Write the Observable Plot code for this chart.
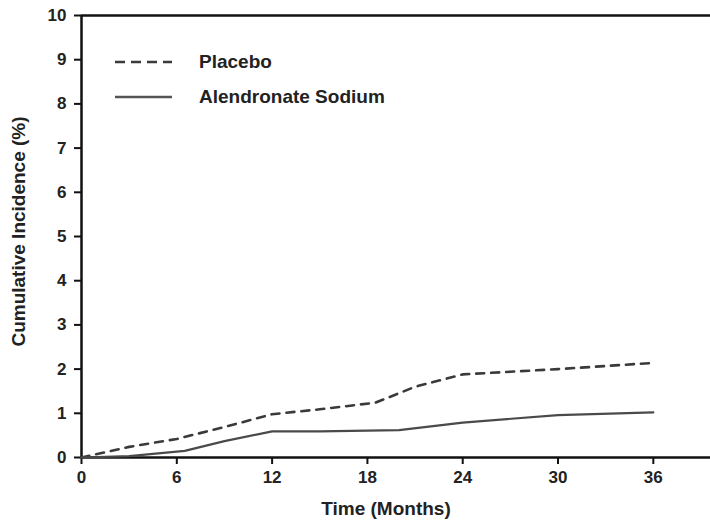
<!DOCTYPE html>
<html>
<head>
<meta charset="utf-8">
<script src="https://cdn.jsdelivr.net/npm/d3@7"></script>
<script src="https://cdn.jsdelivr.net/npm/@observablehq/plot@0.6"></script>
<style>
  html, body { margin: 0; padding: 0; background: #fff; }
  #chart { position: relative; width: 710px; height: 525px; }
  svg { font-family: "Liberation Sans", Arial, sans-serif; }
</style>
</head>
<body>
<div id="chart"></div>
<script>
// Data
const placeboMonths = [0, 3, 6, 9, 12, 15, 18.5, 21, 24, 27, 30, 33, 36];
const placeboValues = [0, 0.24, 0.42, 0.69, 0.98, 1.09, 1.24, 1.6, 1.88, 1.94, 2.0, 2.07, 2.14];
const alendronateMonths = [0, 3, 6.5, 9, 12, 15, 20, 24, 30, 36];
const alendronateValues = [0, 0.03, 0.15, 0.37, 0.59, 0.59, 0.62, 0.79, 0.96, 1.02];
const xTicks = [0, 6, 12, 18, 24, 30, 36];
const yTicks = [0, 1, 2, 3, 4, 5, 6, 7, 8, 9, 10];
const seriesNames = ["Placebo", "Alendronate Sodium"];
const xLabel = "Time (Months)";
const yLabel = "Cumulative Incidence (%)";

const placebo = placeboMonths.map((m, i) => ({month: m, value: placeboValues[i]}));
const alendronate = alendronateMonths.map((m, i) => ({month: m, value: alendronateValues[i]}));

const ink = "#222";
const plot = Plot.plot({
  width: 710,
  height: 525,
  marginLeft: 81,
  marginRight: 0,
  marginTop: 15,
  marginBottom: 68,
  style: {fontFamily: "'Liberation Sans', Arial, sans-serif", color: ink, background: "#fff"},
  x: {domain: [0, 39.6]},
  y: {domain: [0, 10]},
  marks: [
    Plot.ruleY([10], {stroke: "#111", strokeWidth: 2.5}),
    Plot.ruleX([0], {y1: 0, y2: 10, stroke: "#111", strokeWidth: 2.5}),
    Plot.ruleY([0], {stroke: "#111", strokeWidth: 2.5}),
    Plot.axisX({ticks: xTicks, tickSize: 7, tickPadding: 6, tickFormat: d => String(d),
      fontSize: 17, fontWeight: "bold", strokeWidth: 2, stroke: "#111", fill: ink, label: null}),
    Plot.axisY({ticks: yTicks, tickSize: 7, tickPadding: 8, tickFormat: d => String(d),
      fontSize: 17, fontWeight: "bold", strokeWidth: 2, stroke: "#111", fill: ink, label: null}),
    Plot.line(placebo, {x: "month", y: "value", stroke: "#3a3a3a", strokeWidth: 2.6,
      strokeDasharray: "8,7"}),
    Plot.line(alendronate, {x: "month", y: "value", stroke: "#4a4a4a", strokeWidth: 2.2}),
    Plot.text([xLabel], {frameAnchor: "bottom", text: d => d, dy: 57, dx: -10,
      fontSize: 19, fontWeight: "bold", fill: ink}),
    Plot.text([yLabel], {frameAnchor: "left", text: d => d, rotate: -90, dx: -63, dy: -5,
      textAnchor: "middle", fontSize: 19, fontWeight: "bold", fill: ink})
  ]
});
document.getElementById("chart").appendChild(plot);

// Legend (inside the plot frame, top-left)
const svg = d3.select(plot);
const lg = svg.append("g").attr("font-size", 19).attr("font-weight", "bold")
  .attr("fill", ink).attr("text-anchor", "start");
const rows = [
  {name: seriesNames[0], dash: "10,6", color: "#3a3a3a", y: 62},
  {name: seriesNames[1], dash: null, color: "#555", y: 97}
];
rows.forEach(r => {
  lg.append("line").attr("x1", 115).attr("x2", 172).attr("y1", r.y).attr("y2", r.y)
    .attr("stroke", r.color).attr("stroke-width", 2.6)
    .attr("stroke-dasharray", r.dash);
  lg.append("text").attr("x", 199).attr("y", r.y - 1).attr("dy", "0.35em")
    .attr("text-anchor", "start").text(r.name);
});
</script>
</body>
</html>
